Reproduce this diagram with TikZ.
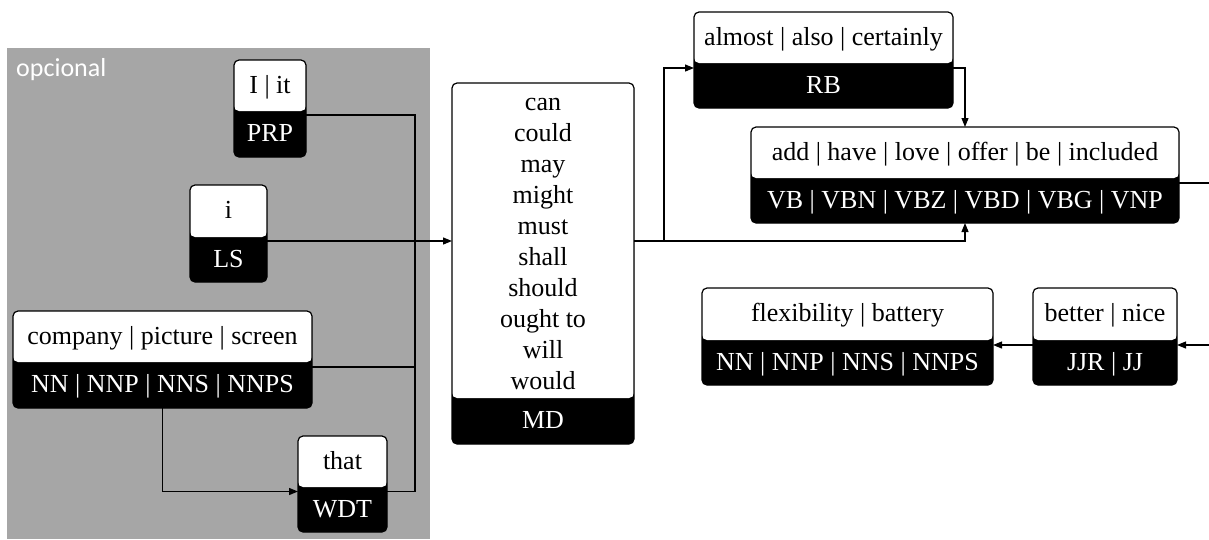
\documentclass[tikz,border=0pt]{standalone}
\usepackage{fontspec}
\setmainfont{Liberation Serif}
\newfontfamily\optfont{Carlito}
\usetikzlibrary{arrows.meta}

\definecolor{optgray}{RGB}{166,166,166}

\tikzset{
  tagbox/.style={draw=black, fill=black, line width=1.2pt, rounded corners=5pt,
    inner sep=0pt, outer sep=0pt},
  wordtext/.style={text=black, inner sep=0pt, text height=15pt, text depth=0pt,
    font=\fontsize{26}{31}\selectfont},
  tagtext/.style={wordtext, text=white},
  link/.style={line width=1.2pt, draw=black},
  arrow/.style={link, -{Triangle[length=9pt,width=7pt]}},
}

% name, cx, cy, width, height, height of the word part, words, tags
\newcommand\tagbox[8]{%
  \node[tagbox, minimum width=#4pt, minimum height=#5pt,
    path picture={\fill[white] (path picture bounding box.north west)
      rectangle ([yshift=-#6pt]path picture bounding box.north east);}]
    (#1) at (#2,#3) {};
  \node[wordtext] (#1-w) at ([yshift={-#6pt/2}]#1.north) {#7};
  \node[tagtext] (#1-t) at ([yshift={(#5pt-#6pt)/2}]#1.south) {#8};
}

\begin{document}
\begin{tikzpicture}[x=1pt, y=-1pt]
\useasboundingbox (0,0) rectangle (1209,539);

% optional region
\fill[optgray] (7,48) rectangle (430,539);
\node[anchor=base west, inner sep=0pt, text=white,
  font=\optfont\fontsize{26}{30}\selectfont] (opt) at (16,76) {opcional};

% tagged word groups
\tagbox{prp}{270}{108.5}{72}{97}{51}{I | it}{PRP}
\tagbox{ls}{228.5}{233.5}{77}{97}{52}{i}{LS}
\tagbox{nn}{162.5}{359.5}{299}{97}{51}{company | picture | screen}{NN | NNP | NNS | NNPS}
\tagbox{wdt}{342.5}{484}{89}{96}{51}{that}{WDT}
\tagbox{rb}{823.5}{60}{259}{96}{51}{almost | also | certainly}{RB}
\tagbox{vb}{965}{175}{428}{96}{51}{add | have | love | offer | be | included}{VB | VBN | VBZ | VBD | VBG | VNP}
\tagbox{flex}{847.5}{336.5}{291}{97}{52}{flexibility | battery}{NN | NNP | NNS | NNPS}
\tagbox{jj}{1105}{336.5}{144}{97}{52}{better | nice}{JJR | JJ}

% modal verbs
\node[tagbox, minimum width=182pt, minimum height=361pt,
  path picture={\fill[white] (path picture bounding box.north west)
    rectangle ([yshift=-315pt]path picture bounding box.north east);}]
  (md) at (543,263.5) {};
\node[inner sep=0pt, align=center, font=\fontsize{26}{31}\selectfont]
  (md-w) at ([yshift=-161pt]md.north)
  {can\\could\\may\\might\\must\\shall\\should\\ought to\\will\\would};
\node[tagtext] (md-t) at ([yshift=23pt]md.south) {MD};

% junction points
\coordinate (bus) at (415,241);
\coordinate (fork) at (664,241);
\coordinate (out1) at (1209,183);
\coordinate (in2) at (1209,345);

% optional inputs into the modal verbs
\draw[link] ([yshift=-6.5pt]prp.east) -| (bus);
\draw[link] ([yshift=-7.5pt]nn.east) -| (bus);
\draw[link] ([yshift=-7.5pt]wdt.east) -| (bus);
\draw[arrow] (nn.south) |- ([yshift=-7.5pt]wdt.west);
\draw[arrow] (ls.east |- bus) -- (md.west |- bus);

% modal verbs onwards
\draw[link] (md.east |- bus) -- (fork);
\draw[arrow] (fork) |- ([yshift=-8pt]rb.west);
\draw[arrow] (fork) -| (vb.south);
\draw[arrow] ([yshift=-8pt]rb.east) -| (vb.north);
\draw[link] ([yshift=-8pt]vb.east) -- (out1);

% adjective to noun
\draw[arrow] (in2) -- (jj.east |- in2);
\draw[arrow] ([yshift=-8.5pt]jj.west) -- ([yshift=-8.5pt]flex.east);
\end{tikzpicture}
\end{document}
